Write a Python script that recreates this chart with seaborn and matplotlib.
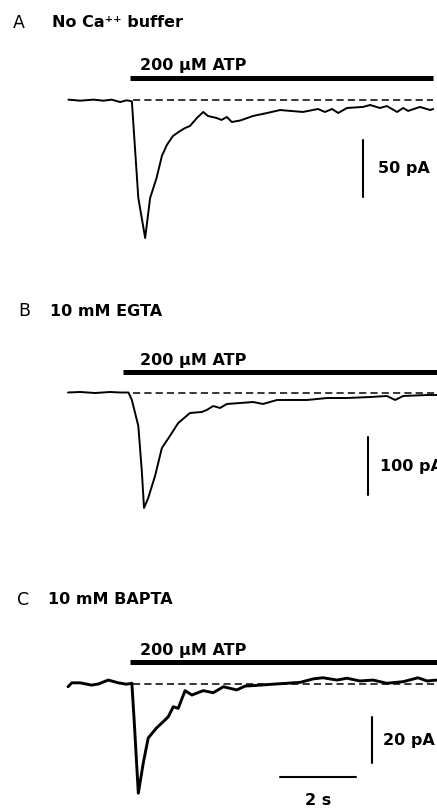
import pandas as pd
import seaborn as sns
import matplotlib.pyplot as plt

# ---- traces: time (s) / current (pA) ----
time_a = [0.01, 0.32, 0.67, 0.93, 1.15, 1.37, 1.54, 1.68, 1.85, 2.03, 2.16, 2.33, 2.47, 2.60,
          2.76, 2.95, 3.08, 3.21, 3.39, 3.56, 3.68, 3.91, 4.04, 4.18, 4.31, 4.53, 4.87, 5.24,
          5.58, 6.18, 6.58, 6.76, 6.95, 7.11, 7.34, 7.76, 7.95, 8.21, 8.39, 8.66, 8.82, 8.95,
          9.26, 9.53, 9.61]
current_a = [0.3, -0.6, 0.3, -0.6, 0.3, -1.8, -0.3, -1.1, -86.0, -121.0, -86.0, -68.4, -49.1, -39.5,
             -31.6, -27.2, -24.6, -22.8, -15.8, -10.5, -14.0, -15.8, -17.5, -14.9, -19.3, -18.0, -14.0, -11.4,
             -8.8, -10.5, -7.9, -10.5, -7.9, -11.4, -7.0, -6.1, -4.4, -7.0, -5.3, -10.5, -7.0, -9.6,
             -6.1, -8.8, -7.9]

time_b = [0.00, 0.32, 0.71, 1.11, 1.37, 1.59, 1.68, 1.85, 1.94, 2.00, 2.11, 2.29, 2.47, 2.68,
          2.90, 3.21, 3.52, 3.65, 3.82, 4.00, 4.18, 4.53, 4.87, 5.13, 5.50, 6.29, 6.82, 7.34,
          7.95, 8.39, 8.61, 8.82, 9.45, 9.71]
current_b = [0.0, 0.9, -0.9, 0.9, 0.0, 0.0, -12.9, -57.8, -133.6, -199.0, -181.9, -144.0, -95.7, -75.0,
             -52.6, -35.3, -33.6, -30.2, -23.3, -26.7, -19.8, -18.1, -16.4, -19.8, -12.9, -12.9, -9.5, -9.5,
             -7.8, -6.0, -12.9, -6.0, -4.3, -4.3]

time_c = [0.00, 0.10, 0.32, 0.62, 0.80, 1.06, 1.32, 1.54, 1.68, 1.74, 1.85, 1.98, 2.11, 2.33,
          2.55, 2.64, 2.77, 2.90, 3.08, 3.26, 3.56, 3.82, 4.09, 4.44, 4.66, 4.79, 5.05, 5.39,
          5.76, 6.11, 6.45, 6.71, 7.08, 7.34, 7.68, 8.03, 8.39, 8.82, 9.21, 9.45, 9.71]
current_c = [-1.4, 0.3, 0.3, -0.7, -0.2, 1.5, 0.3, -0.3, 0.1, -15.9, -47.7, -34.6, -23.7, -19.3,
             -15.9, -14.4, -10.1, -10.8, -3.1, -5.0, -3.1, -4.0, -1.4, -2.8, -1.1, -1.0, -0.7, -0.3,
             0.1, 0.5, 2.0, 2.5, 1.5, 2.3, 1.1, 1.5, 0.1, 0.8, 2.5, 1.1, 1.5]

panel_letters = ["A", "B", "C"]
panel_titles = ["No Ca\u207a\u207a buffer", "10 mM EGTA", "10 mM BAPTA"]
drug_label = "200 \u00b5M ATP"
drug_start = [1.63, 1.45, 1.63]          # s
drug_end = [9.61, 9.71, 9.71]
scale_pa = [50, 100, 20]                 # vertical scale bar size
scale_labels = ["50 pA", "100 pA", "20 pA"]
time_bar = 2                              # s
time_bar_label = "2 s"

# ---- layout (pixels of the 437x810 picture -> data units) ----
W, H = 437, 810
XLIM = (-1.79, 9.71)
ylims = [(-149.1, 87.7), (-254.3, 211.2), (-55.0, 62.4)]
bar_y = [19.3, 35.3, 9.3]
drug_text_y = [26.3, 47.4, 12.4]
dash_start = 1.71
scale_x = [7.76, 7.89, 8.00]
scale_top = [-35.0, -77.0, -14.6]
scale_text_x = [8.16, 8.21, 8.29]
trace_lw = [1.4, 1.4, 2.1]
letter_pos = [(13, 22.5), (18, 311), (17, 600)]
title_pos = [(52, 22.5), (50, 311), (48, 600)]

traces = [
    pd.DataFrame({"t": time_a, "I": current_a}),
    pd.DataFrame({"t": time_b, "I": current_b}),
    pd.DataFrame({"t": time_c, "I": current_c}),
]

sns.set_style("white")
plt.rcParams["font.family"] = ["DejaVu Sans"]
plt.rcParams["text.color"] = "black"

fig = plt.figure(figsize=(W / 100, H / 100), dpi=100)

for i, df in enumerate(traces):
    ax = fig.add_axes([0, 1 - (i + 1) / 3, 1, 1 / 3])
    ax.set_xlim(*XLIM)
    ax.set_ylim(*ylims[i])
    ax.axis("off")

    # baseline (dashed)
    ax.plot([dash_start, drug_end[i]], [0, 0], color="black", lw=1.1,
            dashes=(4.7, 2.7))

    # current trace
    sns.lineplot(data=df, x="t", y="I", ax=ax, color="black", lw=trace_lw[i],
                 estimator=None, sort=False)

    # ATP application bar
    ax.plot([drug_start[i], drug_end[i]], [bar_y[i], bar_y[i]], color="black",
            lw=3.6, solid_capstyle="butt")
    ax.text(1.89, drug_text_y[i], drug_label, fontsize=11.5, fontweight="bold",
            color="black", ha="left", va="baseline")

    # vertical scale bar
    ax.plot([scale_x[i], scale_x[i]], [scale_top[i], scale_top[i] - scale_pa[i]],
            color="black", lw=1.5)
    ax.text(scale_text_x[i], scale_top[i] - scale_pa[i] / 2, scale_labels[i],
            fontsize=11.5, fontweight="bold", color="black", ha="left", va="center")

    # panel letter and condition
    lx, ly = letter_pos[i]
    fig.text(lx / W, 1 - ly / H, panel_letters[i], fontsize=12.5, color="black",
             ha="left", va="center")
    tx, ty = title_pos[i]
    fig.text(tx / W, 1 - ty / H, panel_titles[i], fontsize=11.5, fontweight="bold",
             color="black", ha="left", va="center")

# time scale bar under panel C
ax.plot([5.58, 5.58 + time_bar], [-40.7, -40.7], color="black", lw=1.5)
ax.text(5.58 + time_bar / 2, -51.0, time_bar_label, fontsize=11.5, fontweight="bold",
        color="black", ha="center", va="center")

fig.savefig("out.png", dpi=100)
